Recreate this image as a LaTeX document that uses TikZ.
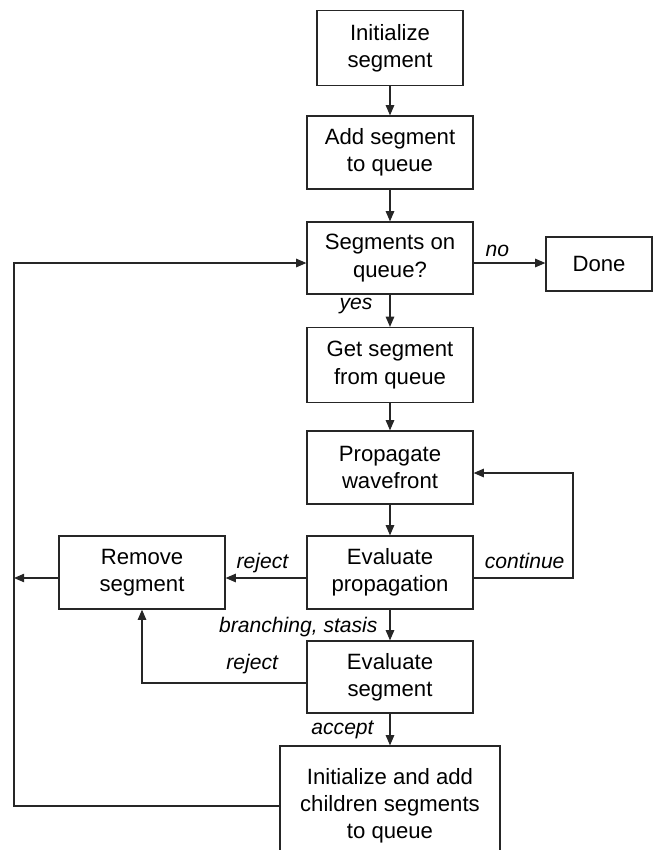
\documentclass[tikz,border=0pt]{standalone}
\usepackage{fontspec}
\setmainfont{Liberation Sans}
\usetikzlibrary{arrows.meta}
\begin{document}
\begin{tikzpicture}[x=0.02cm,y=-0.02cm,
  box/.style={draw=black!85,line width=0.7pt,inner sep=0pt,align=center,
    font=\fontsize{12.6}{15.5}\selectfont,minimum width=3.32cm,minimum height=1.46cm},
  lbl/.style={font=\fontsize{12}{14}\selectfont\itshape,inner sep=0pt},
  conn/.style={draw=black!85,line width=0.7pt},
  arr/.style={conn,-{Triangle[length=5.8pt,width=4.8pt]}}]
\useasboundingbox (0,0) rectangle (654,850);
\clip (0,0) rectangle (654,850);
\node[box,minimum width=2.92cm,minimum height=1.5cm] (init) at (390,48) {Initialize\\segment};
\node[box] (add) at (390,152.5) {Add segment\\to queue};
\node[box,minimum height=1.44cm] (seg) at (390,258) {Segments on\\queue?};
\node[box,minimum width=2.12cm,minimum height=1.08cm] (done) at (599,264) {Done};
\node[box,minimum height=1.5cm] (get) at (390,365) {Get segment\\from queue};
\node[box] (prop) at (390,467.5) {Propagate\\wavefront};
\node[box] (evp) at (390,572.5) {Evaluate\\propagation};
\node[box,minimum height=1.44cm] (evs) at (390,677) {Evaluate\\segment};
\node[box] (rem) at (142,572.5) {Remove\\segment};
\node[box,minimum width=4.4cm,minimum height=2.4cm] (fin) at (390,806) {Initialize and add\\children segments\\to queue};
\coordinate (lx) at (14,806);
\coordinate (cx) at (573,578);

\draw[arr] (init) -- (add);
\draw[arr] (add) -- (seg);
\draw[arr] (seg.east |- 0,263) -- (done.west |- 0,263) node[lbl,pos=0.33,yshift=6.8pt] {no};
\draw[arr] (seg) -- (get) node[lbl,pos=0.36,xshift=-19.3pt] {yes};
\draw[arr] (get) -- (prop);
\draw[arr] (prop) -- (evp);
\draw[arr] (evp.east |- cx) -- node[lbl,pos=1,anchor=south east,xshift=-4.5pt,yshift=5pt] {continue} (cx) |- (prop.east |- 0,473);
\draw[arr] (evp.west |- 0,578) -- (rem.east |- 0,578) node[lbl,midway,xshift=-2pt,yshift=8.5pt] {reject};
\draw[arr] (evp) -- (evs) node[lbl,pos=0.55,left=6.8pt] {branching, stasis};
\draw[arr] (evs.west |- 0,683) -| (rem.south) node[lbl,pos=0.165,yshift=10.8pt] {reject};
\draw[arr] (evs) -- (fin) node[lbl,midway,left=9pt] {accept};
\draw[arr] (rem.west |- 0,578) -- (14,578);
\draw[arr] (fin.west |- lx) -- (lx) |- (seg.west |- 0,263);
\end{tikzpicture}
\end{document}
